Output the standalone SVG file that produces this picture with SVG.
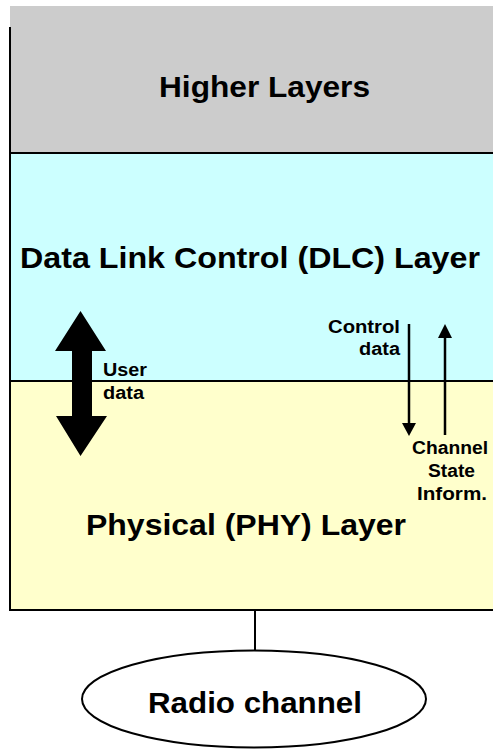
<svg xmlns="http://www.w3.org/2000/svg" width="493" height="749" viewBox="0 0 493 749">
<style>
.big{font-family:"Liberation Sans",Arial,sans-serif;font-weight:bold;font-size:30px;fill:#000}
.small{font-family:"Liberation Sans",Arial,sans-serif;font-weight:bold;font-size:18px;fill:#000}
.ln{stroke:#000;stroke-width:2;fill:none}
</style>
<rect x="0" y="0" width="493" height="749" fill="#fff"/>
<g id="higher">
<rect x="10" y="6" width="483" height="147" fill="#cccccc"/>
<text class="big" x="264.5" y="97" text-anchor="middle" textLength="211" lengthAdjust="spacingAndGlyphs">Higher Layers</text>
</g>
<g id="dlc">
<rect x="10" y="153" width="483" height="228" fill="#ccffff"/>
<text class="big" x="250" y="268" text-anchor="middle" font-size="29" textLength="460" lengthAdjust="spacingAndGlyphs">Data Link Control (DLC) Layer</text>
</g>
<g id="phy">
<rect x="10" y="381" width="483" height="229" fill="#ffffcc"/>
<text class="big" x="246" y="535" text-anchor="middle" font-size="29" textLength="320" lengthAdjust="spacingAndGlyphs">Physical (PHY) Layer</text>
</g>
<g id="borders">
<line class="ln" x1="10" y1="27" x2="10" y2="611"/>
<line class="ln" x1="10" y1="153" x2="493" y2="153"/>
<line class="ln" x1="10" y1="381" x2="493" y2="381"/>
<line class="ln" x1="9" y1="610" x2="493" y2="610"/>
</g>
<g id="radio">
<ellipse class="ln" cx="254" cy="699" rx="172" ry="48.5" fill="#fff"/>
<text class="big" x="255" y="713" text-anchor="middle" font-size="29" textLength="214" lengthAdjust="spacingAndGlyphs">Radio channel</text>
</g>
<g id="connectors">
<line class="ln" x1="255" y1="610" x2="255" y2="651"/>
<polygon points="80.5,311 106,351 92,351 92,416 107,416 80.5,456 56,416 72,416 72,351 55,351" fill="#000"/>
<line stroke="#000" stroke-width="2.5" x1="409" y1="324" x2="409" y2="425"/>
<polygon points="402,423 416,423 409,436" fill="#000"/>
<line stroke="#000" stroke-width="2.5" x1="445" y1="336" x2="445" y2="435"/>
<polygon points="438,338 452,338 445,324" fill="#000"/>
</g>
<g id="labels">
<text class="small" x="103" y="376" textLength="44" lengthAdjust="spacingAndGlyphs">User</text>
<text class="small" x="103" y="399" textLength="41" lengthAdjust="spacingAndGlyphs">data</text>
<text class="small" x="400" y="333" text-anchor="end" textLength="72" lengthAdjust="spacingAndGlyphs">Control</text>
<text class="small" x="400" y="355" text-anchor="end" textLength="41" lengthAdjust="spacingAndGlyphs">data</text>
<text class="small" x="450" y="454" text-anchor="middle" textLength="76" lengthAdjust="spacingAndGlyphs">Channel</text>
<text class="small" x="451.5" y="477" text-anchor="middle" textLength="47" lengthAdjust="spacingAndGlyphs">State</text>
<text class="small" x="452" y="500" text-anchor="middle" textLength="70" lengthAdjust="spacingAndGlyphs">Inform.</text>
</g>
</svg>
